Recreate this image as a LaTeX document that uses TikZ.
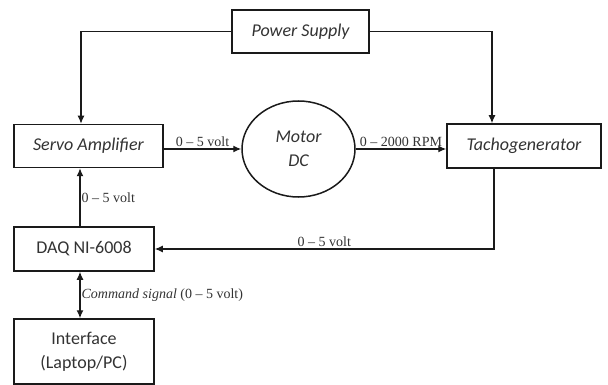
\documentclass[tikz,border=0pt]{standalone}
\usepackage{fontspec}
\setmainfont{Liberation Serif}
\setsansfont{Carlito}
\usepackage{xcolor}
\usepackage{tikz}
\usetikzlibrary{arrows.meta,positioning,shapes.geometric}
\definecolor{dsInk}{HTML}{1A1A1A}
\definecolor{dsText}{HTML}{333333}
\tikzset{
  ds diagram/.style={x=1pt, y=-1pt, line cap=butt, line join=miter},
  ds box/.style={draw=dsInk, fill=white, line width=1.5pt, align=center,
    inner sep=0pt, font=\sffamily\fontsize{18}{24}\selectfont, text=dsText},
  ds ibox/.style={ds box, font=\sffamily\itshape\fontsize{18}{24}\selectfont},
  ds arrow/.style={-{Latex[length=8pt,width=7pt]}, draw=dsInk, line width=1.3pt},
  ds both/.style={ds arrow, {Latex[length=8pt,width=7pt]}-{Latex[length=8pt,width=7pt]}},
  ds label/.style={font=\fontsize{14}{16}\selectfont, text=dsText, inner sep=2pt}
}
\begin{document}
\begin{tikzpicture}[ds diagram]
\useasboundingbox (0,0) rectangle (608,385);
\node[ds ibox,minimum width=137pt,minimum height=43pt] (power) at (300.5,31.5) {Power Supply};
\node[ds ibox,minimum width=149pt,minimum height=43pt] (servo) at (88.5,146) {Servo Amplifier};
\node[ds ibox,ellipse,minimum width=113pt,minimum height=96pt] (motor) at (298.5,149) {Motor\\DC};
\node[ds ibox,minimum width=154pt,minimum height=44pt] (tacho) at (524,146) {Tachogenerator};
\node[ds box,minimum width=140pt,minimum height=44pt] (daq) at (84,249) {DAQ NI-6008};
\node[ds box,minimum width=140pt,minimum height=65pt] (pc) at (84,351.5) {Interface\\(Laptop/PC)};
\draw[ds arrow] (power.west) -| ([xshift=-7.5pt]servo.north);
\draw[ds arrow] (power.east) -| ([xshift=-32pt]tacho.north);
\draw[ds arrow] (servo.east |- motor.west) -- node[ds label,above] {0 -- 5 volt} (motor.west);
\draw[ds arrow] (motor.east) -- node[ds label,above] {0 -- 2000 RPM} (motor.east -| tacho.west);
\draw[ds arrow] ([xshift=-30pt]tacho.south) |- node[ds label,pos=0.75,above] {0 -- 5 volt} (daq.east);
\draw[ds arrow] ([xshift=-4pt]daq.north) -- node[ds label,right,inner sep=1pt] {0 -- 5 volt} ([xshift=-4pt]daq.north |- servo.south);
\draw[ds both] ([xshift=-4pt]daq.south) -- node[ds label,right,inner sep=1pt] {\textit{Command signal} (0 -- 5 volt)} ([xshift=-4pt]pc.north);
\end{tikzpicture}
\end{document}
